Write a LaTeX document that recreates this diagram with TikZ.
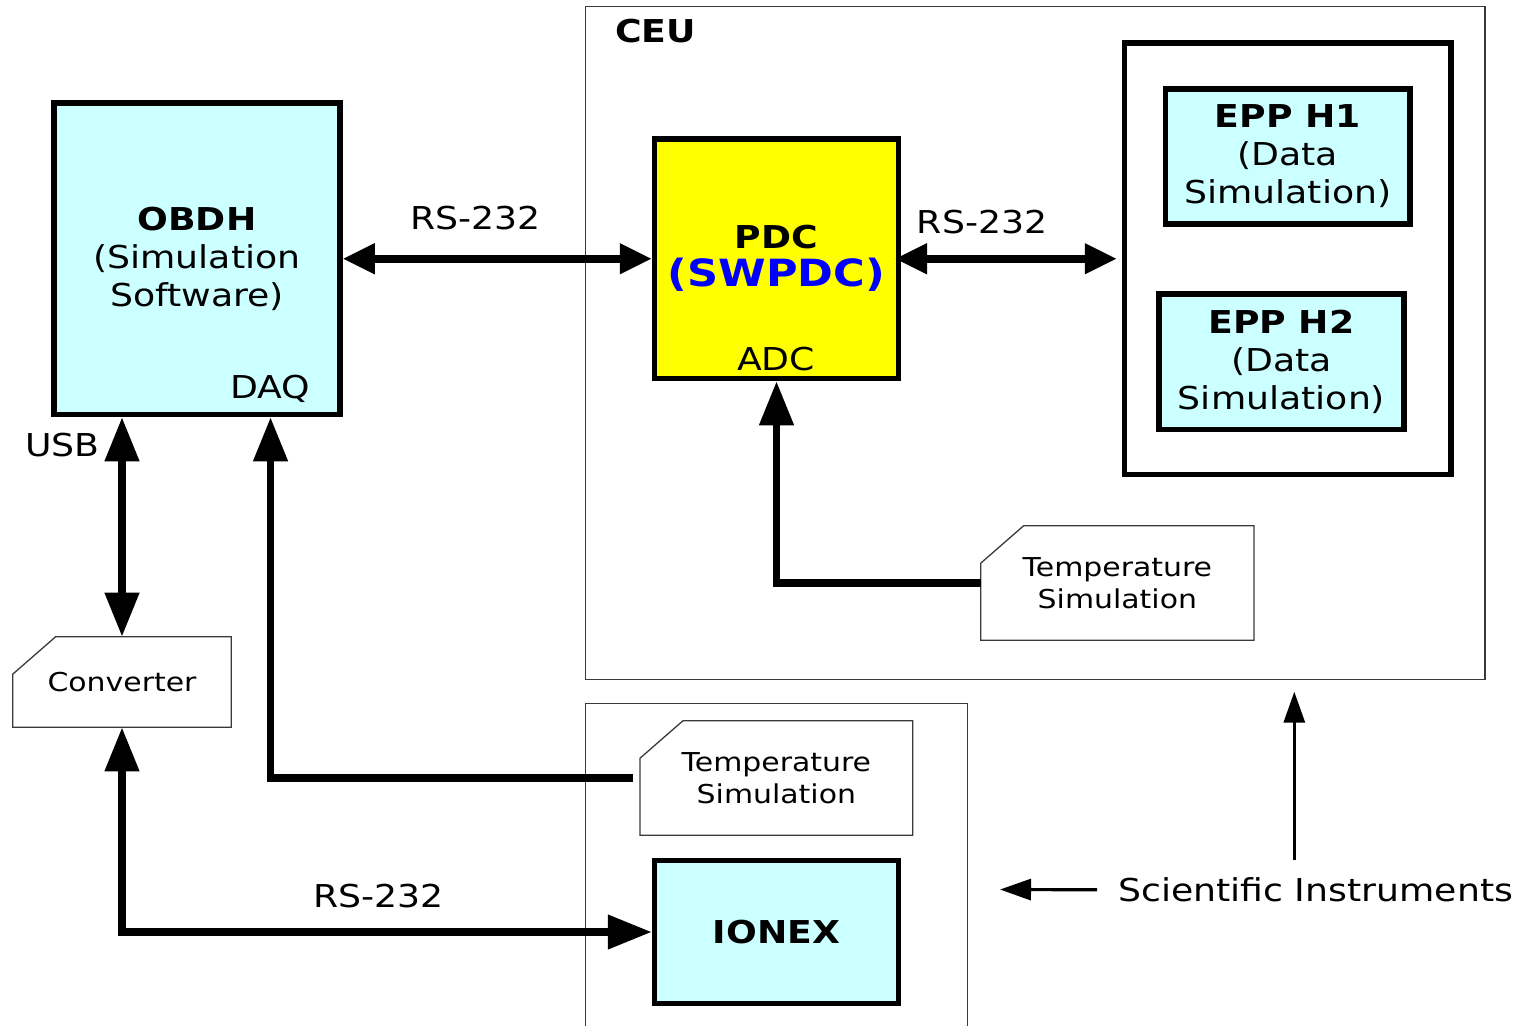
\documentclass[tikz,border=0pt]{standalone}
\usepackage{fontspec}
\setmainfont{DejaVu Sans}[FakeStretch=1.15]
\usetikzlibrary{arrows.meta,calc}

\definecolor{boxcyan}{HTML}{CCFFFF}
\definecolor{pdcyellow}{HTML}{FFFF00}
\definecolor{swblue}{HTML}{0000FF}
\definecolor{framegray}{HTML}{3A3A3A}

\newcommand\fmain{\fontsize{31.5}{38}\selectfont}
\newcommand\fsmall{\fontsize{26}{31.7}\selectfont}
\newcommand\fbig{\fontsize{37.5}{41.6}\selectfont}

% outline of a box whose top-left corner is cut off
\newcommand\chamferbox[1]{%
  \draw[thinframe] ($(#1.north west)+(0,37.5)$) -- ($(#1.north west)+(43,0)$)
    -- (#1.north east) -- (#1.south east) -- (#1.south west) -- cycle;}

\begin{document}
\begin{tikzpicture}[x=1pt,y=-1pt,
  unit/.style={draw, line width=5.5pt, inner sep=0pt, align=center, font=\fmain},
  thinframe/.style={draw=framegray, line width=1.3pt},
  tsim/.style={inner sep=0pt, outer sep=0pt, align=center, font=\fsmall},
  lbl/.style={inner sep=0pt, font=\fmain},
  conn/.style={line width=7.5pt},
  tipH/.tip={Triangle[length=32pt, width=29pt]},
  tipV/.tip={Triangle[length=44pt, width=33pt]},
  tipS/.tip={Triangle[length=31pt, width=21pt]},
  thinarrow/.style={line width=3.2pt, -tipS},
]
\useasboundingbox (0,0) rectangle (1526,1026);

% frames of the two units
\node[thinframe, minimum width=899.3pt, minimum height=672.8pt] (ceu) at (1035.35,343.1) {};
\node[lbl, font=\fmain\bfseries, anchor=base west] (ceulbl) at (615,42.7) {CEU};
\draw[thinframe] (585.7,1026) -- (585.7,703.3) -- (967.7,703.3) -- (967.7,1026);

% main blocks
\node[unit, fill=boxcyan, minimum width=286pt, minimum height=311.5pt] (obdh) at (197,258.75)
  {\textbf{OBDH}\\(Simulation\\Software)};
\node[lbl, anchor=base east] (daq) at (310.7,398) {DAQ};

\node[unit, fill=pdcyellow, minimum width=244pt, minimum height=239.5pt] (pdc) at (776.5,258.75)
  {\textbf{PDC}\\\fbig\bfseries\color{swblue}(SWPDC)};
\node[lbl, anchor=base] (adc) at (776,370.7) {ADC};

\node[unit, minimum width=326.5pt, minimum height=431.5pt] (epp) at (1287.75,258.75) {};
\node[unit, fill=boxcyan, minimum width=244.5pt, minimum height=135pt] (eppa) at (1287.75,156.5)
  {\textbf{EPP H1}\\(Data\\Simulation)};
\node[unit, fill=boxcyan, minimum width=245pt, minimum height=135.5pt] (eppb) at (1281.5,361.75)
  {\textbf{EPP H2}\\(Data\\Simulation)};

\node[unit, fill=boxcyan, minimum width=244pt, minimum height=143pt] (ionex) at (776.5,932)
  {\textbf{IONEX}};

% auxiliary blocks with a cut corner
\node[tsim, minimum width=273.3pt, minimum height=114.6pt] (tsright) at (1117.35,583)
  {Temperature\\Simulation};
\chamferbox{tsright}
\node[tsim, minimum width=272.7pt, minimum height=114.6pt] (tslow) at (776.35,778)
  {Temperature\\Simulation};
\chamferbox{tslow}
\node[tsim, minimum width=218.6pt, minimum height=90.6pt] (conv) at (122,682) {Converter};
\chamferbox{conv}

% link labels
\node[lbl, anchor=base west] (rsa) at (410,229.3) {RS-232};
\node[lbl, anchor=base west] (rsb) at (916.7,233.3) {RS-232};
\node[lbl, anchor=base west] (rsc) at (313,907) {RS-232};
\node[lbl, anchor=base west] (usb) at (25,456) {USB};

% links
\draw[conn, tipH-tipH] (obdh.east) -- (pdc.west);
\draw[conn, tipH-tipH] ([xshift=-6.25pt]pdc.east) -- ([xshift=-5pt]epp.west);
\draw[conn, tipV-tipV] (conv.north |- obdh.south) -- (conv.north);
\draw[conn, -tipV] ([xshift=-7pt]tslow.west) -| (daq.south |- obdh.south);
\draw[conn, -tipV] (tsright.west) -| (pdc.south);
\draw[conn, tipV-tipV] (conv.south) |- (ionex.west);

% legend
\node[lbl, anchor=base west] (sci) at (1118,901.5) {Scientific Instruments};
\coordinate (ceuhint) at (1294.3,691.7);
\coordinate (boxhint) at (1000,889.5);
\draw[thinarrow] ($(sci.north -| ceuhint)+(0,-17)$) -- (ceuhint);
\draw[thinarrow] ($(sci.west)+(-21,0)$) -- (boxhint);
\end{tikzpicture}
\end{document}
